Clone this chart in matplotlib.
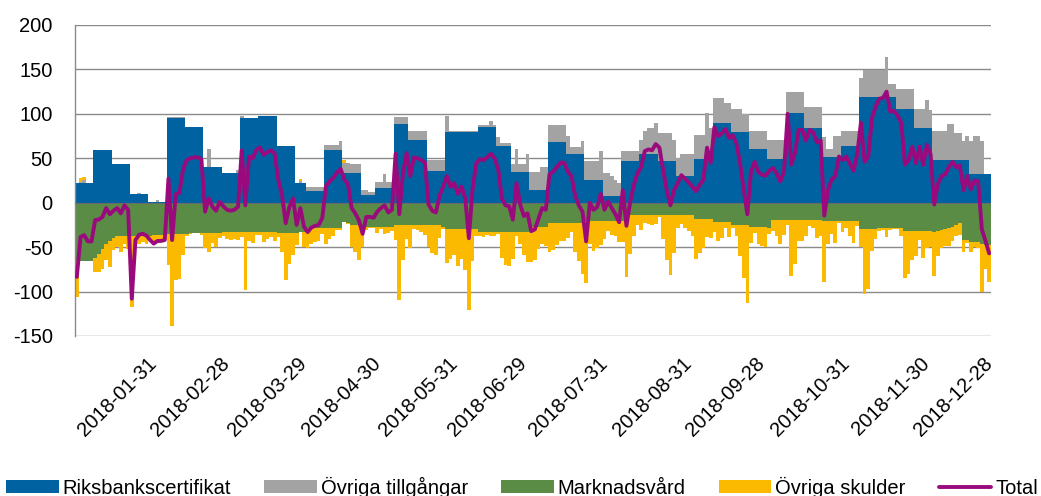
import numpy as np
import pandas as pd
import matplotlib
matplotlib.use('Agg')
import matplotlib.pyplot as plt

plt.rcParams['font.family'] = ['Liberation Sans', 'DejaVu Sans']
plt.rcParams['axes.unicode_minus'] = False

#%% data (mdr kr, daily, Swedish banking days 2018)
holidays = ['2018-01-01', '2018-03-30', '2018-04-02', '2018-05-01', '2018-05-10',
            '2018-06-06', '2018-06-22', '2018-12-24', '2018-12-25', '2018-12-26',
            '2018-12-31']
dates = pd.bdate_range('2018-01-02', '2018-12-28', freq='C', holidays=holidays)

# Riksbankscertifikat
cert = [
    22.5, 22.5, 22.5, 22.5, 22.5, 59, 59, 59, 59, 59,
    44, 44, 44, 44, 44, 9.4, 9.4, 9.4, 9.4, 9.4,
    0.5, 0.5, 0.5, 0.5, 0.5, 95.6, 95.6, 95.6, 95.6, 95.6,
    85, 85, 85, 85, 85, 40.5, 40.5, 40.5, 40.5, 40.5,
    33, 33, 33, 33, 33, 95.6, 95.6, 95.6, 95.6, 95.6,
    98, 98, 98, 98, 98, 64, 64, 64, 64, 64,
    22.5, 22.5, 22.5, 13, 13, 13, 13, 13, 59, 59,
    59, 59, 59, 34, 34, 34, 34, 34, 8.6, 8.6,
    8.6, 8.6, 16, 16, 16, 16, 16, 89, 89, 89,
    89, 70.5, 70.5, 70.5, 70.5, 70.5, 36, 36, 36, 36,
    36, 80, 80, 80, 80, 80, 80, 80, 80, 80,
    85, 85, 85, 85, 85, 64, 64, 64, 64, 35,
    35, 35, 35, 35, 14.6, 14.6, 14.6, 14.6, 14.6, 68,
    68, 68, 68, 68, 55, 55, 55, 55, 55, 25,
    25, 25, 25, 25, 8, 8, 8, 8, 8, 47,
    47, 47, 47, 47, 54.4, 54.4, 54.4, 54.4, 54.4, 47,
    47, 47, 47, 47, 30, 30, 30, 30, 30, 49.5,
    49.5, 49.5, 49.5, 49.5, 90, 90, 90, 90, 90, 80,
    80, 80, 80, 80, 60, 60, 60, 60, 60, 49,
    49, 49, 49, 49, 101, 101, 101, 101, 101, 84,
    84, 84, 84, 84, 51, 51, 51, 51, 51, 64,
    64, 64, 64, 64, 119.5, 119.5, 119.5, 119.5, 119.5, 119.5,
    119.5, 119.5, 119.5, 119.5, 106, 106, 106, 106, 106, 84.6,
    84.6, 84.6, 84.6, 84.6, 48.5, 48.5, 48.5, 48.5, 48.5, 48.5,
    48.5, 48.5, 48.5, 48.5, 32, 32, 32, 32, 32, 32,
]

# Övriga tillgångar
other_assets = [
    0, 1, 3, 0, 0, 0, 0, 0, 0, 0,
    0, 0, 0, 0, 0, 0, 0, 1, 0, 0,
    0, 0, 2, 0, 0, 1, 1, 1, 1, 1,
    0, 0, 0, 0, 0, 0, 20, 0, 0, 0,
    0, 0, 0, 0, 4, 2, 0, 0, 0, 0,
    0, 0, 0, 0, 0, 0, 0, 0, 0, 0,
    0, 2, 0, 5, 5, 5, 5, 5, 6, 6,
    6, 6, 10, 11, 11, 10, 10, 10, 6, 6,
    3.5, 3.5, 7.6, 7.6, 16, 7.6, 7.6, 8, 8, 8,
    8, 10.5, 10.5, 10.5, 10.5, 10.5, 12, 12, 12, 12,
    12, 18, 1, 1, 1, 1, 1, 1, 1, 1,
    2, 2, 2, 7, 2, 9.5, 3, 3, 3, 9,
    25, 9, 9, 20, 20, 20, 20, 26, 26, 20,
    20, 20, 20, 20, 20, 8, 8, 8, 15, 21.5,
    21.5, 21.5, 21.5, 33, 25, 25, 22, 17, 14, 11,
    11, 11, 11, 11, 16, 26.6, 29.6, 29.6, 35.6, 31,
    31, 31, 31, 23.5, 20, 25, 25, 25, 25, 27,
    27, 27, 51.5, 35, 28, 28, 28, 22, 22, 25,
    25, 25, 20, 20, 20.5, 20.5, 20.5, 20.5, 20.5, 22,
    22, 22, 22, 22, 24, 24, 24, 24, 24, 24,
    24, 24, 24, 24, 23.5, 10, 10, 24, 24, 17,
    17, 17, 17, 17, 20.5, 29.5, 29.5, 29.5, 29.5, 29.5,
    29.5, 44.5, 14, 14, 22, 22, 22, 22, 22, 20.5,
    20.5, 20.5, 31.5, 20, 32.5, 32.5, 32.5, 32.5, 40.5, 40.5,
    29.5, 29.5, 21.5, 26.5, 38, 43, 43, 38, 0, 0,
]

# Marknadsvård
market_ops = [
    -66, -66, -66, -66, -66, -62, -58, -52, -46, -43,
    -40, -38, -38, -38, -38, -37, -37, -37, -37, -37,
    -37, -36, -36, -36, -36, -35, -35, -35, -35, -35,
    -35, -34, -34, -34, -34, -34, -34, -34, -34, -34,
    -33, -33, -33, -33, -33, -33, -33, -33, -33, -33,
    -33, -33, -33, -33, -33, -34, -34, -34, -34, -34,
    -34, -33, -33, -29, -29, -29, -29, -29, -29, -29,
    -29, -29, -29, -22, -23, -25, -25, -25, -27, -27,
    -27, -27, -27, -27, -27, -27, -27, -25, -25, -25,
    -25, -25, -25, -25, -25, -25, -25, -25, -25, -25,
    -27, -30, -30, -30, -30, -30, -30, -30, -30, -30,
    -33, -33, -33, -33, -33, -33, -33, -33, -33, -33,
    -33, -33, -33, -33, -27, -27, -27, -27, -27, -23,
    -23, -23, -23, -23, -23, -23, -23, -23, -23, -21,
    -21, -21, -21, -21, -21, -21, -21, -21, -21, -21,
    -21, -14, -14, -14, -14, -14, -14, -14, -14, -14,
    -14, -14, -14, -14, -14, -14, -14, -14, -14, -18,
    -18, -18, -18, -18, -22, -22, -22, -22, -22, -25,
    -25, -25, -25, -25, -27, -27, -27, -27, -27, -29,
    -19, -19, -19, -19, -19, -19, -19, -19, -19, -19,
    -19, -19, -19, -19, -21, -21, -21, -21, -21, -21,
    -21, -21, -21, -21, -30, -30, -30, -30, -30, -29,
    -29, -29, -29, -29, -29, -29, -32, -32, -32, -32,
    -32, -32, -32, -32, -33, -32, -31, -30, -28, -27,
    -25, -23, -42, -42, -44, -44, -44, -47, -48, -48,
]

# Övriga skulder
other_liab = [
    -40, 4, 4, 0, 0, -16.5, -20, -23, -19, -29,
    -13, -12, -18, -9, -14, -80.4, -14.4, -9.4, -7.4, -9.4,
    -5.5, -10.5, -9.5, -7.5, -6.5, -34.6, -103.6, -52, -50.6, -23.6,
    -2, -1, 0, 0, -2, -16.5, -21.5, -11, -15.5, -5.5,
    -4, -8, -9, -8, -8.5, -5.6, -65.6, -10.6, -12.6, -3,
    -3, -11, -8, -6, -10, -4.5, -21.4, -53, -35, -25,
    -13.5, 2.5, -16.5, -22, -17, -15, -14, -6, -17, -12,
    -8, -2, -2, 3, -1, -25, -31, -39, -22.6, -3.6,
    -1, -2, -6.6, -2.6, -8, -7.6, -4.6, -17, -85, -39,
    -16, -26, -5, -6, -8, -11, -25, -32, -34, -15,
    -3, -38, -33, -29, -41, -33, -46, -91, -36, -7,
    -5, -6, -3, -4, -4, -2.5, -29, -37, -38, -30,
    -5, -13, -26, -34, -39.6, -37.6, -25.6, -19.6, -21.6, -33,
    -30, -25, -20, -20, -17, -10, -32, -43, -57, -69,
    -25.5, -33.5, -30.5, -27, -20, -10.5, -15, -17, -23, -23,
    -63, -44, -24, -11, -16.4, -9, -10, -11, -10, -2,
    -27, -50, -67, -42.5, -14, -10, -14, -18, -23, -45.5,
    -38.5, -32.5, -21, -21.5, -11, -21, -18, -7, -17, -4,
    -13, -35, -60, -88, -18.5, -7.5, -19, -22, -23, -6,
    -13, -19, -28, -17, -6, -63, -50, -24, -24, -19,
    -7, -10, -21, -19, -68, -26, -14, -24, -2, -12,
    -8, -16, -24, -5, -20, -73, -67, -24, -11, -3,
    -2, -10, -2, -1, -1, -9, -53, -48, -33, -28.5,
    -10, -30.5, -19, -17.6, -50, -28, -20, -19, -21, -16,
    -13, -13, -14, -3, -11, -6, -7, -53, -27, -41,
]

BLUE = '#0062a1'
GREY = '#a3a3a3'
GREEN = '#5b8c46'
YELLOW = '#fbb900'
PURPLE = '#9a0a7d'

#%% stacking
cert = np.array(cert, dtype=float)
other_assets = np.array(other_assets, dtype=float)
market_ops = np.array(market_ops, dtype=float)
other_liab = np.array(other_liab, dtype=float)
total = cert + other_assets + market_ops + other_liab

# positive "övriga skulder" sits on top of the assets, negative below marknadsvård
liab_bottom = np.where(other_liab >= 0, cert + other_assets, market_ops)

x = np.arange(len(dates))
months = dates.month.values
is_end = np.r_[months[1:] != months[:-1], True]
tick_pos = x[is_end]
tick_lab = [d.strftime('%Y-%m-%d') for d in dates[is_end]]

#%% plot
fig = plt.figure(figsize=(10.41, 4.96), dpi=100)
ax = fig.add_axes([75/1041, 1 - 336/496, 916/1041, 311/496])

bar_kw = dict(width=1.0, linewidth=0, zorder=2)
ax.bar(x, cert, color=BLUE, label='Riksbankscertifikat', **bar_kw)
ax.bar(x, other_assets, bottom=cert, color=GREY, label='Övriga tillgångar', **bar_kw)
ax.bar(x, market_ops, color=GREEN, label='Marknadsvård', **bar_kw)
ax.bar(x, other_liab, bottom=liab_bottom, color=YELLOW, label='Övriga skulder', **bar_kw)
ax.axhline(0, color='#6b6b6b', lw=0.8, zorder=3)
ax.plot(x, total, color=PURPLE, lw=2.8, zorder=4, label='Total',
        solid_joinstyle='round', solid_capstyle='round')

ax.set_xlim(-0.5, len(x) - 0.5)
ax.set_ylim(-150, 200)
ax.set_yticks(range(-150, 201, 50))
ax.yaxis.grid(True, color='#8a8a8a', lw=1.0)
ax.set_axisbelow(True)

for side in ['top', 'right', 'bottom']:
    ax.spines[side].set_visible(False)
ax.spines['left'].set_color('#8a8a8a')
ax.spines['left'].set_linewidth(1.0)

ax.set_xticks(tick_pos)
ax.set_xticklabels(tick_lab, rotation=45, ha='right', va='center',
                   rotation_mode='anchor')
ax.tick_params(axis='both', length=0, labelsize=14.5)
ax.tick_params(axis='y', pad=16)
ax.tick_params(axis='x', pad=18)

# legend: bars first, line last
handles, labels = ax.get_legend_handles_labels()
order = [labels.index(l) for l in ['Riksbankscertifikat', 'Övriga tillgångar',
                                   'Marknadsvård', 'Övriga skulder', 'Total']]
fig.legend([handles[i] for i in order], [labels[i] for i in order],
           loc='center', bbox_to_anchor=(0.5015, 1 - 487/496), ncol=5,
           frameon=False, fontsize=14.5, handlelength=2.6, handleheight=0.6,
           handletextpad=0.2, columnspacing=1.65, borderaxespad=0, borderpad=0)

fig.savefig('out.png', dpi=100)
